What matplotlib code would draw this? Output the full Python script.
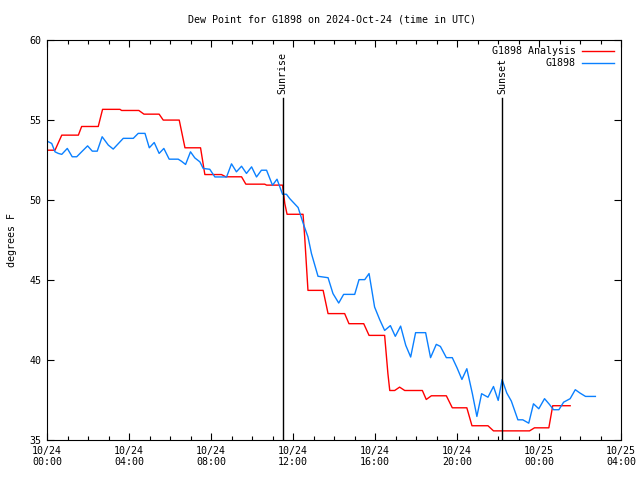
import numpy as np
import matplotlib
matplotlib.use("Agg")
import matplotlib.pyplot as plt
from matplotlib.ticker import MultipleLocator

# hours since 2024-10-24 00:00 UTC, values in degrees F
analysis_t = [0, 0.39, 0.72, 1.53, 1.69, 2.5, 2.71, 3.56, 3.64, 4.48, 4.73, 5.47, 5.67, 6.45,
              6.73, 7.49, 7.7, 8.51, 8.72, 9.49, 9.7, 10.62, 10.71, 11.49, 11.6, 11.71, 12.49,
              12.57, 12.66, 12.73, 13.47, 13.71, 14.52, 14.73, 15.45, 15.71, 16.47, 16.63, 16.72,
              16.96, 17.2, 17.45, 18.31, 18.5, 18.75, 19.48, 19.77, 20.48, 20.73, 21.51, 21.78,
              23.54, 23.78, 24.48, 24.67, 25.52]
analysis_v = [53.09, 53.09, 54.03, 54.03, 54.57, 54.57, 55.64, 55.64, 55.57, 55.57, 55.34, 55.34,
              54.97, 54.97, 53.24, 53.24, 51.57, 51.57, 51.43, 51.43, 50.97, 50.97, 50.91, 50.91,
              49.76, 49.09, 49.09, 47.68, 45.8, 44.34, 44.34, 42.89, 42.89, 42.26, 42.26, 41.53,
              41.53, 39.14, 38.09, 38.09, 38.3, 38.09, 38.09, 37.53, 37.76, 37.76, 37.01, 37.01,
              35.89, 35.89, 35.57, 35.57, 35.76, 35.76, 37.14, 37.14]

obs_t = [0, 0.23, 0.39, 0.55, 0.72, 0.99, 1.23, 1.45, 1.69, 1.98, 2.21, 2.45, 2.69, 2.99, 3.23,
         3.72, 4.21, 4.45, 4.78, 4.99, 5.23, 5.47, 5.70, 5.96, 6.40, 6.56, 6.76, 7.0, 7.21, 7.46,
         7.62, 7.94, 8.19, 8.76, 9.0, 9.24, 9.49, 9.73, 9.98, 10.22, 10.46, 10.71, 11.0, 11.22,
         11.49, 11.68, 11.84, 12.25, 12.5, 12.73, 12.9, 13.22, 13.71, 13.95, 14.23, 14.47, 15.01,
         15.22, 15.5, 15.71, 15.82, 15.98, 16.23, 16.47, 16.75, 16.99, 17.25, 17.5, 17.74, 17.98,
         18.47, 18.71, 18.99, 19.19, 19.48, 19.77, 20.0, 20.24, 20.48, 20.75, 20.97, 21.2, 21.51,
         21.78, 22.01, 22.2, 22.43, 22.65, 22.97, 23.21, 23.5, 23.73, 23.99, 24.27, 24.51, 24.71,
         24.97, 25.2, 25.52, 25.77, 26.0, 26.27, 26.75]
obs_v = [53.66, 53.51, 52.99, 52.89, 52.83, 53.2, 52.68, 52.68, 52.99, 53.36, 53.03, 53.03, 53.93,
         53.41, 53.16, 53.83, 53.83, 54.14, 54.14, 53.24, 53.57, 52.89, 53.2, 52.53, 52.53, 52.4,
         52.2, 52.99, 52.61, 52.36, 51.95, 51.9, 51.42, 51.42, 52.24, 51.74, 52.09, 51.64, 52.05,
         51.42, 51.84, 51.84, 50.9, 51.28, 50.34, 50.34, 50.07, 49.51, 48.51, 47.68, 46.64, 45.22,
         45.13, 44.14, 43.55, 44.09, 44.09, 45.01, 45.01, 45.39, 44.55, 43.3, 42.51, 41.84, 42.14,
         41.47, 42.11, 40.91, 40.18, 41.7, 41.7, 40.14, 40.97, 40.84, 40.14, 40.14, 39.51, 38.78,
         39.45, 37.89, 36.47, 37.89, 37.67, 38.34, 37.47, 38.77, 37.93, 37.43, 36.26, 36.26, 36.05,
         37.26, 36.95, 37.58, 37.22, 36.89, 36.89, 37.36, 37.58, 38.14, 37.93, 37.72, 37.72]

sunrise = 11.5
sunset = 22.19
tick_hours = [0, 4, 8, 12, 16, 20, 24, 28]
tick_labels = ["10/24\n00:00", "10/24\n04:00", "10/24\n08:00", "10/24\n12:00",
               "10/24\n16:00", "10/24\n20:00", "10/25\n00:00", "10/25\n04:00"]

plt.rcParams['font.family'] = ['DejaVu Sans Mono']
fs = 7.2

fig = plt.figure(figsize=(6.4, 4.8), dpi=100)
ax = fig.add_axes([47 / 640, 40 / 480, 574 / 640, 400.5 / 480])

ax.plot(analysis_t, analysis_v, color='#ff0000', lw=1.0, label='G1898 Analysis')
ax.plot(obs_t, obs_v, color='#0a80ff', lw=1.0, label='G1898')

# sunrise / sunset markers
for t, name in [(sunrise, 'Sunrise'), (sunset, 'Sunset')]:
    ax.plot([t, t], [35, 56.34], color='black', lw=1.0)
    ax.text(t, 56.6, name, rotation=90, ha='center', va='bottom', fontsize=fs)

ax.set_xlim(0, 28)
ax.set_ylim(35, 60)
ax.set_xticks(tick_hours)
ax.set_xticklabels(tick_labels, fontsize=fs)
ax.xaxis.set_minor_locator(MultipleLocator(1))
ax.set_yticks([35, 40, 45, 50, 55, 60])
ax.tick_params(axis='y', labelsize=fs)
ax.tick_params(which='both', direction='in', top=True, right=True, width=0.8, pad=4)
ax.tick_params(which='major', length=5)
ax.tick_params(which='minor', length=3)
for s in ax.spines.values():
    s.set_linewidth(0.8)

ax.set_ylabel('degrees F', fontsize=fs, labelpad=9)
fig.text(332 / 640, 1 - 19 / 480, 'Dew Point for G1898 on 2024-Oct-24 (time in UTC)',
         ha='center', va='center', fontsize=fs)

ax.legend(loc='upper right', fontsize=fs, frameon=False, markerfirst=False,
          handlelength=3.2, borderaxespad=0.3, labelspacing=0.15, handletextpad=0.6)
for txt in ax.get_legend().get_texts():
    txt.set_ha('right')

fig.savefig('out.png', dpi=100)
